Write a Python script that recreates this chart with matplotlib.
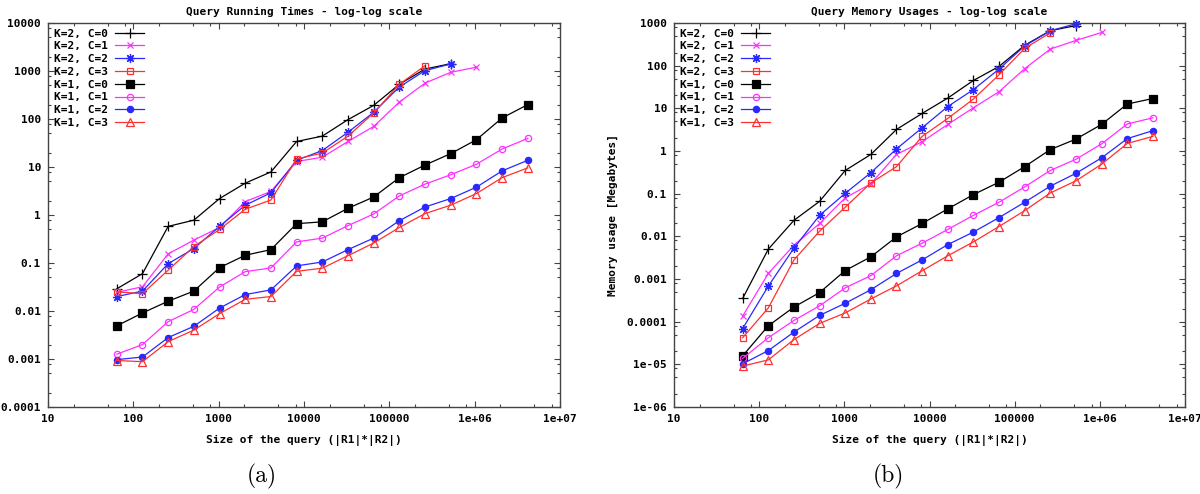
import matplotlib
matplotlib.use("Agg")
import matplotlib.pyplot as plt
from matplotlib.ticker import LogLocator, FixedLocator, FixedFormatter, NullFormatter

# ---------------- data ----------------
sizes = [64, 128, 256, 512, 1024, 2048, 4096, 8192, 16384, 32768, 65536,
         131072, 262144, 524288, 1048576, 2097152, 4194304]

labels = ["K=2, C=0", "K=2, C=1", "K=2, C=2", "K=2, C=3",
          "K=1, C=0", "K=1, C=1", "K=1, C=2", "K=1, C=3"]

# Query running times
time_k2_c0 = [0.029, 0.06, 0.58, 0.78, 2.2, 4.6, 7.9, 34, 44, 97, 192, 530, 1100, 1420]
time_k2_c1 = [0.0245, 0.032, 0.155, 0.30, 0.55, 1.9, 3.1, 13, 16, 34, 70, 225, 560, 940, 1200]
time_k2_c2 = [0.020, 0.026, 0.097, 0.20, 0.58, 1.6, 2.9, 13.8, 22, 53, 138, 465, 1020, 1400]
time_k2_c3 = [0.025, 0.023, 0.071, 0.22, 0.50, 1.32, 2.05, 14.7, 19.5, 44, 133, 530, 1290]
time_k1_c0 = [0.0049, 0.0091, 0.016, 0.026, 0.080, 0.145, 0.19, 0.66, 0.72, 1.38, 2.37,
              6.0, 11, 19, 37, 105, 200]
time_k1_c1 = [0.00126, 0.0020, 0.0060, 0.0108, 0.0316, 0.066, 0.079, 0.275, 0.33, 0.60,
              1.05, 2.5, 4.4, 6.9, 11.4, 23.7, 39.5]
time_k1_c2 = [0.00097, 0.0011, 0.0028, 0.0048, 0.0115, 0.022, 0.0275, 0.087, 0.105, 0.19,
              0.33, 0.76, 1.47, 2.2, 3.8, 8.3, 13.8]
time_k1_c3 = [0.00093, 0.00088, 0.0023, 0.0040, 0.0088, 0.0175, 0.020, 0.067, 0.078, 0.142,
              0.26, 0.55, 1.07, 1.6, 2.8, 6.0, 9.6]

# Query memory usages (Megabytes)
mem_k2_c0 = [3.5e-4, 5.0e-3, 0.0237, 0.066, 0.35, 0.83, 3.2, 7.6, 17.4, 45, 96, 300, 660, 870]
mem_k2_c1 = [1.35e-4, 1.35e-3, 6.2e-3, 0.020, 0.080, 0.17, 0.83, 1.65, 4.2, 10.3, 24.5,
             85, 245, 390, 600]
mem_k2_c2 = [6.9e-5, 6.8e-4, 5.3e-3, 0.031, 0.102, 0.31, 1.12, 3.5, 11, 27.5, 83, 290, 660, 960]
mem_k2_c3 = [4.2e-5, 2.1e-4, 2.8e-3, 0.0132, 0.048, 0.178, 0.43, 2.2, 5.8, 16.5, 61, 254, 590]
mem_k1_c0 = [1.58e-5, 8.0e-5, 2.2e-4, 4.8e-4, 1.58e-3, 3.3e-3, 9.7e-3, 0.020, 0.044, 0.095,
             0.186, 0.43, 1.08, 1.9, 4.2, 12.6, 17]
mem_k1_c1 = [1.38e-5, 4.2e-5, 1.07e-4, 2.35e-4, 6.2e-4, 1.2e-3, 3.5e-3, 6.9e-3, 0.0145,
             0.031, 0.063, 0.144, 0.35, 0.64, 1.47, 4.3, 6.0]
mem_k1_c2 = [1.03e-5, 2.1e-5, 5.7e-5, 1.4e-4, 2.7e-4, 5.6e-4, 1.35e-3, 2.8e-3, 6.4e-3,
             0.0126, 0.0275, 0.063, 0.15, 0.30, 0.69, 1.95, 3.0]
mem_k1_c3 = [9.1e-6, 1.27e-5, 3.8e-5, 9.1e-5, 1.6e-4, 3.4e-4, 6.9e-4, 1.56e-3, 3.5e-3,
             7.4e-3, 0.017, 0.040, 0.104, 0.20, 0.49, 1.5, 2.2]

time_series = [time_k2_c0, time_k2_c1, time_k2_c2, time_k2_c3,
               time_k1_c0, time_k1_c1, time_k1_c2, time_k1_c3]
mem_series = [mem_k2_c0, mem_k2_c1, mem_k2_c2, mem_k2_c3,
              mem_k1_c0, mem_k1_c1, mem_k1_c2, mem_k1_c3]

x_ticks = [10, 100, 1000, 10000, 100000, 1e6, 1e7]
x_ticklabels = ["10", "100", "1000", "10000", "100000", "1e+06", "1e+07"]
y1_ticks = [1e-4, 1e-3, 1e-2, 1e-1, 1, 10, 100, 1000, 10000]
y1_ticklabels = ["0.0001", "0.001", "0.01", "0.1", "1", "10", "100", "1000", "10000"]
y2_ticks = [1e-6, 1e-5, 1e-4, 1e-3, 1e-2, 1e-1, 1, 10, 100, 1000]
y2_ticklabels = ["1e-06", "1e-05", "0.0001", "0.001", "0.01", "0.1", "1", "10", "100", "1000"]

# ---------------- styles ----------------
BLACK = "#000000"
MAG = "#ff30ff"
BLUE = "#2828ff"
RED = "#ff3030"
styles = [
    dict(color=BLACK, marker="+", ms=7, mew=0.9, mfc="none"),
    dict(color=MAG, marker="x", ms=5, mew=0.9, mfc="none"),
    dict(color=BLUE, marker=(8, 2, 0), ms=6.5, mew=0.9, mfc="none"),
    dict(color=RED, marker="s", ms=5, mew=0.9, mfc="none"),
    dict(color=BLACK, marker="s", ms=5.5, mew=0.9, mfc=BLACK),
    dict(color=MAG, marker="o", ms=4.5, mew=0.9, mfc="none"),
    dict(color=BLUE, marker="o", ms=4.5, mew=0.9, mfc=BLUE),
    dict(color=RED, marker="^", ms=5.5, mew=0.9, mfc="none"),
]

MONO = "DejaVu Sans Mono"
FS = 8

fig = plt.figure(figsize=(12.0, 4.94), dpi=100)
W, H = 1200.0, 494.0
ax1 = fig.add_axes([48 / W, (H - 407) / H, 512 / W, 384 / H])
ax2 = fig.add_axes([674 / W, (H - 407) / H, 511 / W, 384 / H])


def style_axes(ax, yticks, yticklabels, ylim):
    ax.set_xscale("log")
    ax.set_yscale("log")
    ax.set_xlim(10, 1e7)
    ax.set_ylim(*ylim)
    ax.xaxis.set_major_locator(FixedLocator(x_ticks))
    ax.xaxis.set_major_formatter(FixedFormatter(x_ticklabels))
    ax.yaxis.set_major_locator(FixedLocator(yticks))
    ax.yaxis.set_major_formatter(FixedFormatter(yticklabels))
    ax.xaxis.set_minor_locator(LogLocator(base=10, subs=[2, 5, 8], numticks=20))
    ax.yaxis.set_minor_locator(LogLocator(base=10, subs=[2, 5, 8], numticks=20))
    ax.xaxis.set_minor_formatter(NullFormatter())
    ax.yaxis.set_minor_formatter(NullFormatter())
    ax.tick_params(which="both", direction="in", top=True, right=True,
                   color="#444444", width=0.8)
    ax.tick_params(which="major", length=4, labelsize=FS, pad=5)
    ax.tick_params(which="minor", length=2)
    for lab in ax.get_xticklabels() + ax.get_yticklabels():
        lab.set_fontfamily(MONO)
        lab.set_fontweight("bold")
    for sp in ax.spines.values():
        sp.set_color("#444444")
        sp.set_linewidth(1.0)


for ax, series, title in [(ax1, time_series, "Query Running Times - log-log scale"),
                          (ax2, mem_series, "Query Memory Usages - log-log scale")]:
    for vals, lab, st in zip(series, labels, styles):
        ax.plot(sizes[:len(vals)], vals, label=lab, lw=0.9, clip_on=False, **st)
    ax.set_title(title, fontfamily=MONO, fontweight="bold", fontsize=FS, pad=6)
    ax.set_xlabel("Size of the query (|R1|*|R2|)", fontfamily=MONO,
                  fontweight="bold", fontsize=FS, labelpad=8)
    leg = ax.legend(loc="upper left", frameon=False, markerfirst=False,
                    prop=dict(family=MONO, weight="bold", size=FS),
                    handlelength=2.6, handletextpad=0.7, labelspacing=0.25,
                    borderaxespad=0.3, borderpad=0.2)

style_axes(ax1, y1_ticks, y1_ticklabels, (1e-4, 1e4))
style_axes(ax2, y2_ticks, y2_ticklabels, (1e-6, 1e3))
ax2.set_ylabel("Memory usage [Megabytes]", fontfamily=MONO, fontweight="bold",
               fontsize=FS, labelpad=6)

fig.text(262 / W, 1 - 476 / H, "(a)", family="cmr10", fontsize=17,
         ha="center", va="center")
fig.text(888 / W, 1 - 476 / H, "(b)", family="cmr10", fontsize=17,
         ha="center", va="center")

fig.savefig("out.png", dpi=100)
